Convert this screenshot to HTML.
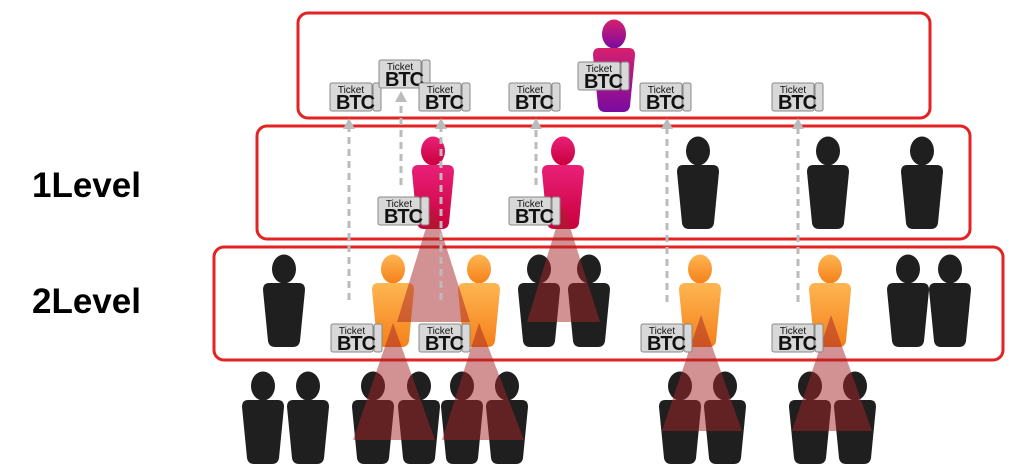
<!DOCTYPE html>
<html><head><meta charset="utf-8"><style>
html,body{margin:0;padding:0;background:#fff;}
svg{display:block;}
</style></head><body>
<svg width="1024" height="473" viewBox="0 0 1024 473" xmlns="http://www.w3.org/2000/svg">
<defs>
<linearGradient id="gP" x1="0" y1="0" x2="0" y2="1"><stop offset="0" stop-color="#d6206e"/><stop offset="1" stop-color="#7a0aa0"/></linearGradient>
<linearGradient id="gK" x1="0" y1="0" x2="0" y2="1"><stop offset="0" stop-color="#ea2078"/><stop offset="1" stop-color="#c8003c"/></linearGradient>
<linearGradient id="gO" x1="0" y1="0" x2="0" y2="1"><stop offset="0" stop-color="#fdb652"/><stop offset="1" stop-color="#f5801a"/></linearGradient>
<g id="body"><ellipse cx="0" cy="14" rx="12" ry="14.5"/><path d="M -15 28 H 15 Q 21 28 21 35 L 16 86 Q 15 92 9 92 H -9 Q -15 92 -16 86 L -21 35 Q -21 28 -15 28 Z"/></g>
<g id="tk">
<rect x="0" y="0" width="42" height="28" rx="2" fill="#d8d8d8" stroke="#888" stroke-width="1"/>
<rect x="43" y="0" width="8" height="28" rx="2" fill="#d8d8d8" stroke="#888" stroke-width="1"/>
<text x="21" y="10" font-family="Liberation Sans, sans-serif" font-size="10" text-anchor="middle" fill="#111">Ticket</text>
<text x="25" y="26" font-family="Liberation Sans, sans-serif" font-size="20" font-weight="bold" text-anchor="middle" fill="#111" letter-spacing="-1">BTC</text>
</g>
</defs>

<rect x="298" y="13" width="632" height="105" rx="10" fill="none" stroke="#e32222" stroke-width="3"/>
<rect x="257" y="126" width="713" height="113" rx="10" fill="none" stroke="#e32222" stroke-width="3"/>
<rect x="214" y="247" width="789" height="113" rx="10" fill="none" stroke="#e32222" stroke-width="3"/>

<text x="32" y="197" font-family="Liberation Sans, sans-serif" font-size="35" font-weight="bold" fill="#000">1Level</text>
<text x="32" y="313" font-family="Liberation Sans, sans-serif" font-size="35" font-weight="bold" fill="#000">2Level</text>

<use href="#body" x="614" y="20" fill="url(#gP)"/>
<use href="#body" x="433" y="137" fill="url(#gK)"/>
<use href="#body" x="563" y="137" fill="url(#gK)"/>
<g fill="#1f1f1f">
<use href="#body" x="698" y="137"/><use href="#body" x="828" y="137"/><use href="#body" x="922" y="137"/>
<use href="#body" x="284" y="255"/><use href="#body" x="539" y="255"/><use href="#body" x="589" y="255"/>
<use href="#body" x="908" y="255"/><use href="#body" x="950" y="255"/>
<use href="#body" x="263" y="372"/><use href="#body" x="308" y="372"/><use href="#body" x="373" y="372"/><use href="#body" x="419" y="372"/>
<use href="#body" x="462" y="372"/><use href="#body" x="507" y="372"/><use href="#body" x="680" y="372"/><use href="#body" x="725" y="372"/>
<use href="#body" x="810" y="372"/><use href="#body" x="855" y="372"/>
</g>
<g fill="url(#gO)">
<use href="#body" x="393" y="255"/><use href="#body" x="479" y="255"/><use href="#body" x="700" y="255"/><use href="#body" x="830" y="255"/>
</g>

<g fill="rgba(165,35,40,0.5)">
<polygon points="433,205 397,322 470,322"/>
<polygon points="563,205 527,322 600,322"/>
<polygon points="393,323 353,440 435,440"/>
<polygon points="479,323 442,440 524,440"/>
<polygon points="701,315 662,431 742,431"/>
<polygon points="831,315 792,431 872,431"/>
</g>

<g stroke="#bbb" stroke-width="3" stroke-dasharray="7,5" fill="none">
<line x1="349" y1="300" x2="349" y2="128"/>
<line x1="401" y1="185" x2="401" y2="100"/>
<line x1="441" y1="300" x2="441" y2="128"/>
<line x1="536" y1="185" x2="536" y2="128"/>
<line x1="667" y1="302" x2="667" y2="128"/>
<line x1="798" y1="302" x2="798" y2="128"/>
</g>
<g fill="#bbb">
<polygon points="349,118 343,129 355,129"/>
<polygon points="401,91 395,102 407,102"/>
<polygon points="441,118 435,129 447,129"/>
<polygon points="536,118 530,129 542,129"/>
<polygon points="667,118 661,129 673,129"/>
<polygon points="798,118 792,129 804,129"/>
</g>

<use href="#tk" x="330" y="83"/>
<use href="#tk" x="379" y="60"/>
<use href="#tk" x="419" y="83"/>
<use href="#tk" x="509" y="83"/>
<use href="#tk" x="578" y="62"/>
<use href="#tk" x="640" y="83"/>
<use href="#tk" x="772" y="83"/>
<use href="#tk" x="378" y="197"/>
<use href="#tk" x="509" y="197"/>
<use href="#tk" x="331" y="324"/>
<use href="#tk" x="419" y="324"/>
<use href="#tk" x="641" y="324"/>
<use href="#tk" x="772" y="324"/>
</svg>
</body></html>
